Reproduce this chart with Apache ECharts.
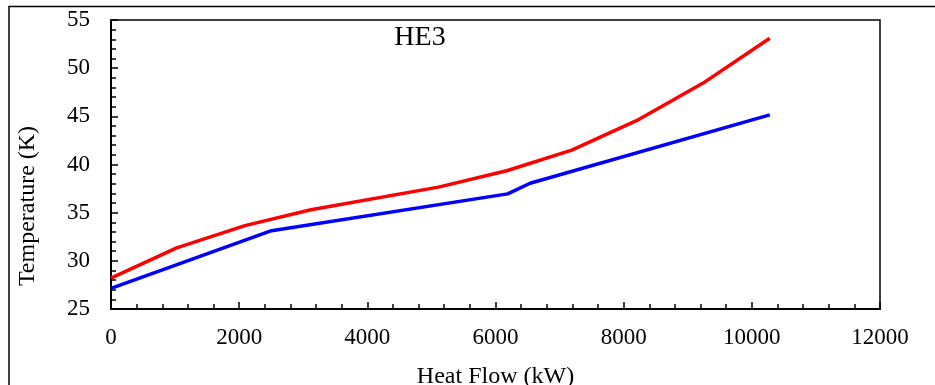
<!DOCTYPE html>
<html>
<head>
<meta charset="utf-8">
<script src="https://cdn.jsdelivr.net/npm/echarts@6/dist/echarts.min.js"></script>
<style>
  html, body { margin: 0; padding: 0; background: #fff; }
  #main { width: 935px; height: 385px; }
</style>
</head>
<body>
<div id="main"></div>
<script>
// values
const hotFlow = [0, 1025, 2090, 3120, 5110, 6175, 7190, 8200, 9240, 10280];
const hotTemp = [28.2, 31.35, 33.65, 35.3, 37.65, 39.35, 41.5, 44.55, 48.45, 53.1];
const coldFlow = [0, 2505, 6190, 6540, 10280];
const coldTemp = [27.15, 33.13, 36.95, 38.05, 45.15];

const font = "'Liberation Serif', 'Times New Roman', serif";

function pairs(xs, ys) {
  return xs.map((x, i) => [x, ys[i]]);
}

const chart = echarts.init(document.getElementById('main'));

chart.setOption({
  backgroundColor: '#ffffff',
  animation: false,
  grid: {
    left: 111,
    right: 55,
    top: 20,
    bottom: 76,
    outerBoundsMode: 'none',
    containLabel: false,
    show: true,
    borderColor: '#000',
    borderWidth: 1.5
  },
  xAxis: {
    type: 'value',
    min: 0,
    max: 12000,
    interval: 2000,
    name: 'Heat Flow (kW)',
    nameLocation: 'middle',
    nameGap: 56,
    nameTextStyle: { fontFamily: font, fontSize: 24, color: '#000' },
    axisLine: { lineStyle: { color: '#000', width: 2 } },
    axisTick: { inside: true, length: 7, lineStyle: { color: '#000', width: 1.5 } },
    minorTick: { show: true, splitNumber: 5, length: 5, lineStyle: { color: '#000', width: 1.5 } },
    axisLabel: {
      fontFamily: font, fontSize: 23, color: '#000', margin: 17,
      formatter: v => String(v)
    },
    splitLine: { show: false }
  },
  yAxis: {
    type: 'value',
    min: 25,
    max: 55,
    interval: 5,
    axisLine: { show: true, lineStyle: { color: '#000', width: 2 } },
    axisTick: { show: true, inside: true, length: 7, lineStyle: { color: '#000', width: 1.5 } },
    minorTick: { show: true, splitNumber: 5, length: 5, lineStyle: { color: '#000', width: 1.5 } },
    axisLabel: { fontFamily: font, fontSize: 23, color: '#000', margin: 21 },
    splitLine: { show: false }
  },
  graphic: [
    {
      type: 'rect',
      silent: true,
      shape: { x: 9, y: 6.5, width: 1200, height: 1000 },
      style: { fill: 'none', stroke: '#000', lineWidth: 1.5 }
    },
    {
      type: 'text',
      x: 28,
      y: 206,
      rotation: Math.PI / 2,
      style: {
        text: 'Temperature (K)',
        font: '24px ' + font,
        fill: '#000',
        align: 'center',
        verticalAlign: 'middle'
      }
    },
    {
      type: 'text',
      x: 420,
      y: 38,
      style: {
        text: 'HE3',
        font: '28px ' + font,
        fill: '#000',
        align: 'center',
        verticalAlign: 'middle'
      }
    }
  ],
  series: [
    {
      name: 'hot',
      type: 'line',
      symbol: 'none',
      lineStyle: { color: '#ff0000', width: 3.5 },
      data: pairs(hotFlow, hotTemp)
    },
    {
      name: 'cold',
      type: 'line',
      symbol: 'none',
      lineStyle: { color: '#0000ff', width: 3.5 },
      data: pairs(coldFlow, coldTemp)
    }
  ]
});
</script>
</body>
</html>
